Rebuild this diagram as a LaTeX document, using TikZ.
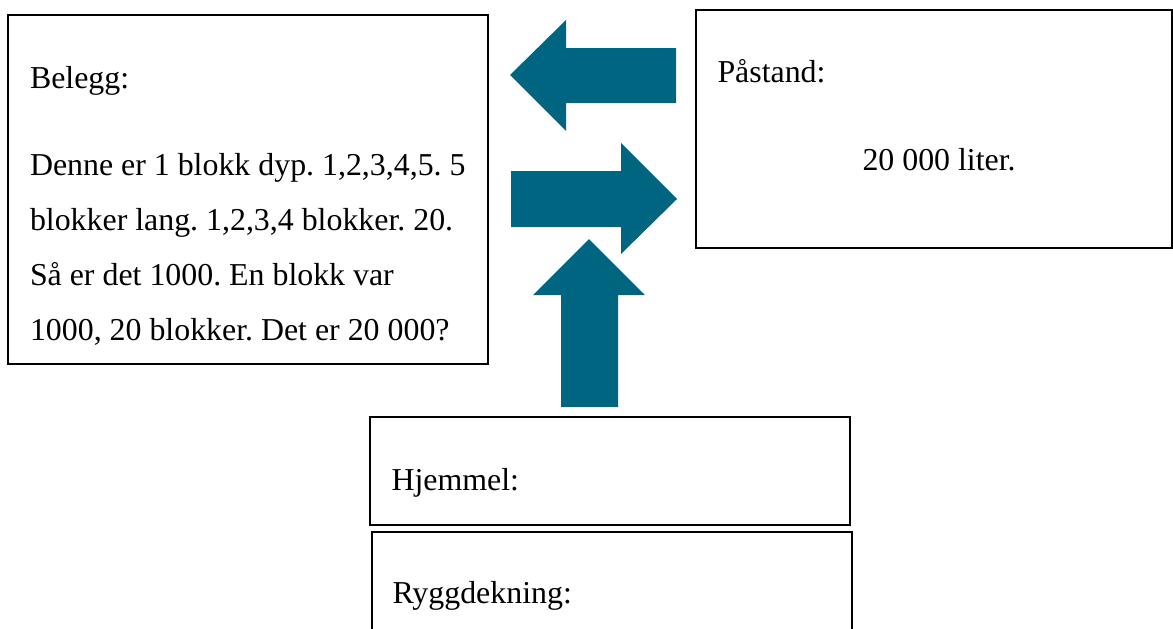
\documentclass[tikz,border=0pt]{standalone}
\usepackage{fontspec}
\setmainfont{Liberation Serif}
\definecolor{teal}{RGB}{0,101,128}
\begin{document}
\frenchspacing
\begin{tikzpicture}[x=0.4pt,y=-0.4pt,
  box/.style={draw=black, line width=0.8pt, inner sep=0pt, outer sep=0pt, fill=white},
  txt/.style={anchor=base west, inner sep=0pt, font=\fontsize{12.75pt}{15pt}\selectfont},
  bigarrow/.style={fill=teal, draw=none}]
\useasboundingbox (0,0) rectangle (1173,628);
\clip (0,0) rectangle (1173,628);

% boxes
\node[box, minimum width={480*0.4pt}, minimum height={349*0.4pt}] (belegg) at (248,189.5) {};
\node[box, minimum width={476*0.4pt}, minimum height={238*0.4pt}] (pastand) at (934,129) {};
\node[box, minimum width={480*0.4pt}, minimum height={108*0.4pt}] (hjemmel) at (610,471) {};
\node[box, minimum width={480*0.4pt}, minimum height={120*0.4pt}] (rygg) at (612,592) {};

% texts
\node[txt] (t1) at (29.5,88) {Belegg:};
\node[txt] (t2) at (29.5,175) {Denne er 1 blokk dyp. 1,2,3,4,5. 5};
\node[txt] (t3) at (29.5,230) {blokker lang. 1,2,3,4 blokker. 20.};
\node[txt] (t4) at (29.5,285) {Så er det 1000. En blokk var};
\node[txt] (t5) at (29.5,340) {1000, 20 blokker. Det er 20 000?};
\node[txt] (t6) at (717,82) {Påstand:};
\node[txt] (t7) at (862,170) {20 000 liter.};
\node[txt] (t8) at (391,490) {Hjemmel:};
\node[txt] (t9) at (392,603) {Ryggdekning:};

% block arrows
\fill[bigarrow] (510,75) -- (566,20) -- (566,48) -- (676,48) -- (676,103) -- (566,103) -- (566,131) -- cycle;
\fill[bigarrow] (511,171) -- (621,171) -- (621,143) -- (677,199) -- (621,254) -- (621,227) -- (511,227) -- cycle;
\fill[bigarrow] (589,239) -- (645,295) -- (618,295) -- (618,407) -- (561,407) -- (561,295) -- (533,295) -- cycle;
\end{tikzpicture}
\end{document}
